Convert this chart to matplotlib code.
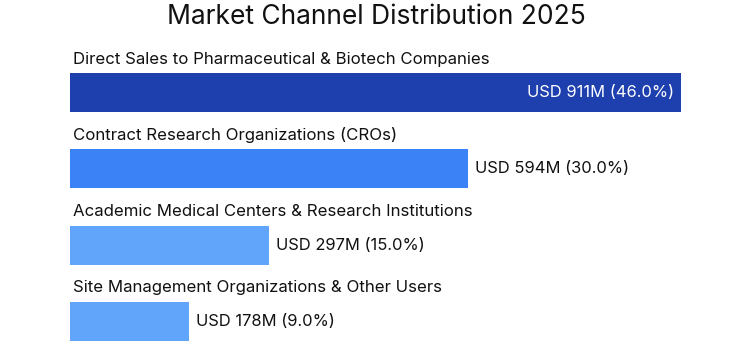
import matplotlib.pyplot as plt

channels = [
    "Direct Sales to Pharmaceutical & Biotech Companies",
    "Contract Research Organizations (CROs)",
    "Academic Medical Centers & Research Institutions",
    "Site Management Organizations & Other Users",
]
revenue_musd = [911, 594, 297, 178]
share_pct = [46.0, 30.0, 15.0, 9.0]
bar_colors = ["#1E40AF", "#3B82F6", "#60A5FA", "#60A5FA"]

plt.rcParams["font.family"] = ["Inter", "DejaVu Sans"]

fig = plt.figure(figsize=(7.52, 3.5), dpi=100)
ax = fig.add_axes([70 / 752, 0, 670 / 752, 310 / 350])

y = range(len(channels))
ax.barh(y, revenue_musd, height=0.51, color=bar_colors)
ax.set_xlim(0, 999)
ax.set_ylim(3.375, -0.69)

for i, (name, val, pct) in enumerate(zip(channels, revenue_musd, share_pct)):
    ax.annotate(name, (0, i - 0.44), xytext=(2, 0), textcoords="offset points",
                ha="left", va="center", fontsize=12.1, color="#111111")
    label = f"USD {val}M ({pct:.1f}%)"
    if i == 0:
        ax.annotate(label, (val, i), xytext=(-5, 0), textcoords="offset points",
                    ha="right", va="center", fontsize=11.9, color="white")
    else:
        ax.annotate(label, (val, i), xytext=(5, 0), textcoords="offset points",
                    ha="left", va="center", fontsize=11.9, color="#111111")

ax.axis("off")
fig.text(0.5, 1 - 17 / 350, "Market Channel Distribution 2025", ha="center",
         va="center", fontsize=19, color="#111111")

fig.savefig("out.png", dpi=100, facecolor="white")
